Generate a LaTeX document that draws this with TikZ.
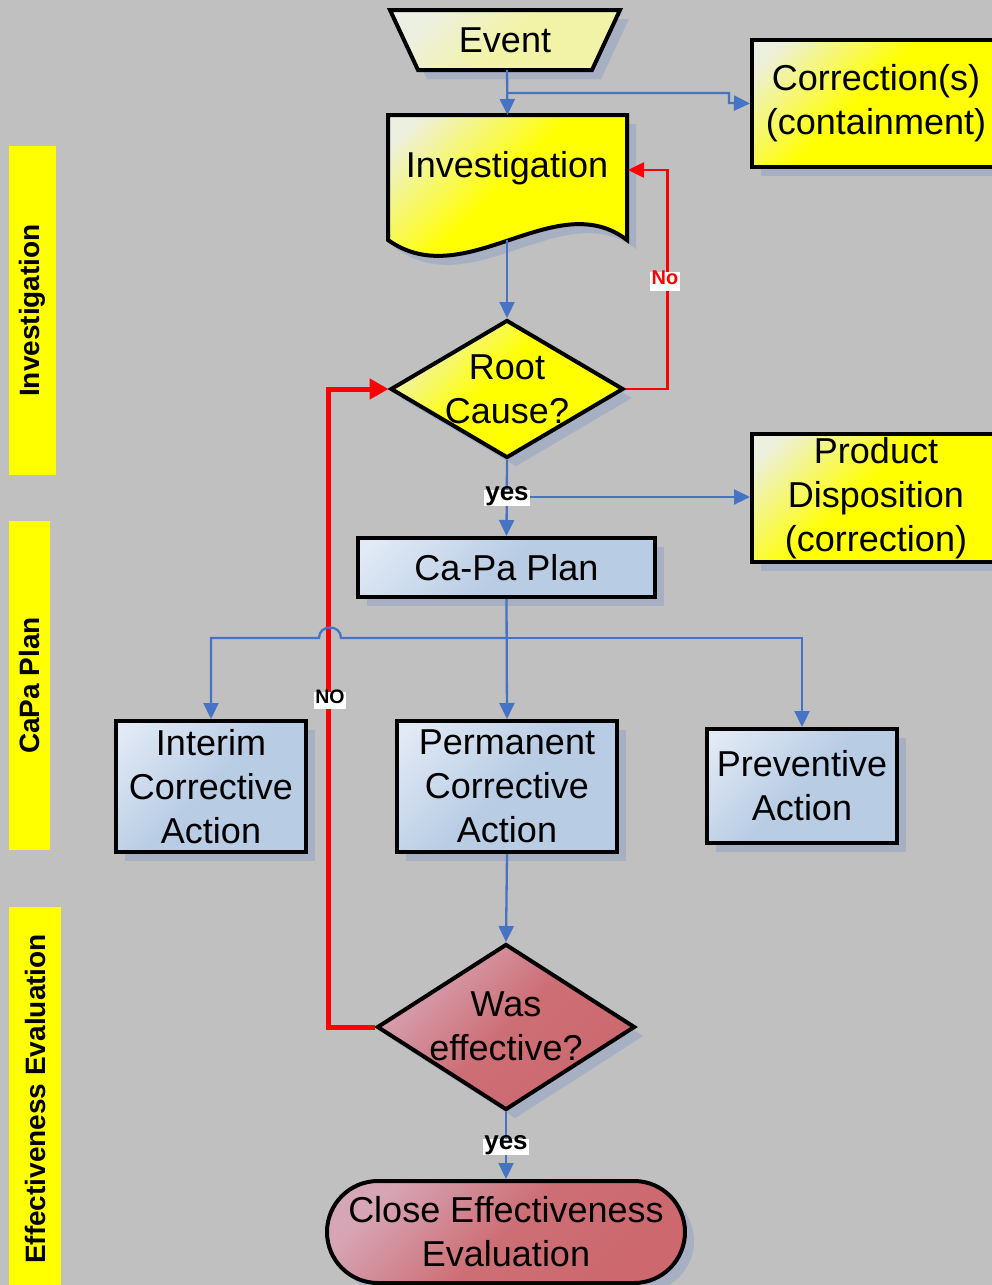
\documentclass[tikz,border=0pt]{standalone}
\usepackage{fontspec}
\setmainfont{Liberation Sans}
\usetikzlibrary{arrows.meta,shapes.geometric,shapes.misc,shadows}

\definecolor{bg}{RGB}{192,192,192}
\definecolor{lanecol}{RGB}{255,255,0}
\definecolor{shadowcol}{RGB}{166,176,194}
\definecolor{flowcol}{RGB}{70,115,196}
\definecolor{loopcol}{RGB}{255,0,0}
\definecolor{ylight}{RGB}{236,240,222}
\definecolor{elight}{RGB}{236,240,226}
\definecolor{epale}{RGB}{243,243,168}
\definecolor{blight}{RGB}{226,234,245}
\definecolor{bdark}{RGB}{184,204,228}
\definecolor{rlight}{RGB}{214,166,182}
\definecolor{rdark}{RGB}{204,104,110}

% glossy fills: light sheen in the upper left corner only
\pgfdeclareverticalshading{yellowsheen}{100bp}{color(0bp)=(lanecol); color(54bp)=(lanecol); color(80bp)=(ylight); color(100bp)=(ylight)}
\pgfdeclareverticalshading{bluesheen}{100bp}{color(0bp)=(bdark); color(50bp)=(bdark); color(82bp)=(blight); color(100bp)=(blight)}

\newcommand\mainsize{\fontsize{36pt}{44pt}\selectfont}
\newcommand\lanesize{\bfseries\fontsize{28pt}{28pt}\selectfont}

\begin{document}
\begin{tikzpicture}[x=1pt,y=-1pt,
  shapebase/.style={draw=black, line width=4pt,
    drop shadow={shadow xshift=9pt, shadow yshift=-9pt, fill=shadowcol, opacity=1}},
  box/.style={shapebase, rectangle, align=center, font=\mainsize, inner sep=2pt},
  yfill/.style={shade, shading=yellowsheen, shading angle=45},
  efill/.style={top color=elight, bottom color=epale, middle color=epale, shading angle=45},
  bfill/.style={shade, shading=bluesheen, shading angle=45},
  rfill/.style={top color=rlight, bottom color=rdark, middle color=rdark!90!rlight, shading angle=45},
  txt/.style={font=\mainsize, align=center, inner sep=0pt},
  lane/.style={fill=lanecol, rotate=90, font=\lanesize, inner sep=0pt},
  flow/.style={draw=flowcol, line width=2.3pt, -{Triangle[length=16pt,width=15pt]}},
  loopthin/.style={draw=loopcol, line width=2.6pt, -{Triangle[length=16pt,width=15pt]}},
  loopthick/.style={draw=loopcol, line width=5pt, -{Triangle[length=19pt,width=20pt]}},
  nolbl/.style={fill=white, text=loopcol, font=\bfseries\fontsize{20pt}{20pt}\selectfont,
    inner xsep=1.5pt, inner ysep=5.5pt, text height=.75em, text depth=.05em},
  yeslbl/.style={fill=white, text=black, font=\bfseries\fontsize{26pt}{26pt}\selectfont,
    inner xsep=1pt, inner ysep=3.5pt, text height=.74em, text depth=.24em},
  NOlbl/.style={fill=white, text=black, font=\bfseries\fontsize{19.5pt}{19.5pt}\selectfont,
    inner xsep=1.5pt, inner ysep=4.3pt, text height=.76em, text depth=.08em}
]
\useasboundingbox (0,0) rectangle (992,1285);
\fill[bg] (0,0) rectangle (992,1285);

% swim-lane tags on the left
\node[lane, minimum width=329pt, minimum height=47pt] (laneInv) at (32.5,310.5) {Investigation};
\node[lane, minimum width=329pt, minimum height=41pt] (laneCapa) at (29.5,685.5) {CaPa Plan};
\node[lane, minimum width=384pt, minimum height=52pt] (laneEff) at (35,1099) {Effectiveness Evaluation};

% Event (manual input trapezoid)
\draw[shapebase, efill] (390,10) -- (620,10) -- (592,70) -- (418,70) -- cycle;
\node[txt] (event) at (505,40) {Event};
\coordinate (eventB) at (507,70);

% Investigation (document shape)
\draw[shapebase, yfill] (388,115) -- (627,115) -- (627,240)
  .. controls (555,185) and (465,295) .. (388,240) -- cycle;
\node[minimum width=239pt, minimum height=125pt, inner sep=0pt, outer sep=0pt] (inv) at (507.5,177.5) {};
\node[txt] (invtext) at (507,168) {Investigation};
\coordinate (invB) at (507,240);
\coordinate (invE) at (628,170);

% Corrections
\node[box, yfill, minimum width=248pt, minimum height=127pt] (corr) at (876,103.5)
  {Correction(s)\\(containment)};

% Root cause decision
\node[shapebase, yfill, diamond, minimum width=233pt, minimum height=138pt, inner sep=0pt] (root) at (507,389) {};
\node[txt] (roottext) at (507,389) {Root\\Cause?};

% Product disposition
\node[box, yfill, minimum width=248pt, minimum height=128pt] (prod) at (876,498)
  {Product\\Disposition\\(correction)};

% Plan and actions
\node[box, bfill, minimum width=297pt, minimum height=59pt] (capa) at (506.5,567.5) {Ca-Pa Plan};
\node[box, bfill, minimum width=190pt, minimum height=131pt] (interim) at (211,786.5)
  {Interim\\Corrective\\Action};
\node[box, bfill, minimum width=220pt, minimum height=131pt] (perm) at (507,786.5)
  {Permanent\\Corrective\\Action};
\node[box, bfill, minimum width=190pt, minimum height=114pt] (prev) at (802,786)
  {Preventive\\Action};

% Effectiveness decision and closure
\node[shapebase, rfill, diamond, minimum width=258pt, minimum height=166pt, inner sep=0pt] (was) at (506,1027) {};
\node[txt] (wastext) at (506,1026) {Was\\effective?};
\node[shapebase, rfill, rounded rectangle, minimum width=358pt, minimum height=102pt, inner sep=0pt] (close) at (506,1232) {};
\node[txt] (closetext) at (506,1232) {Close Effectiveness\\Evaluation};

% red loops
\draw[loopthin] (root.east) -- ++(42,0) |- (invE);
\node[nolbl] (lblNo) at (665,281) {No};
\draw[loopthick] (was.west) -- ++(-47,0) |- (root.west);
\node[NOlbl] (lblNO) at (330,700) {NO};

% blue flow
\coordinate (evsplit) at (507,93);
\coordinate (corrjog) at (729,93);
\draw[flow] (eventB) -- (inv.north);
\draw[flow] (evsplit) -- (corrjog) -- ++(0,10) -- (corr.west);
\draw[flow] (invB) -- (root.north);
\coordinate (yesY) at (507,497);
\draw[flow] (root.south) -- (capa.north);
\draw[flow] (yesY) -- (yesY -| prod.west);
\node[yeslbl] (yes1) at (507,498) {yes};

\coordinate (branch) at (507,638);
\draw[flow] (capa.south) -- (perm.north);
\draw[flow] (branch) -| (prev.north);
\draw[flow] (branch) -- (341,638) .. controls (341,624) and (319,624) .. (319,638) -| (interim.north);

\draw[flow] (perm.south) -- (was.north);
\draw[flow] (was.south) -- (close.north);
\node[yeslbl] (yes2) at (506,1147) {yes};
\end{tikzpicture}
\end{document}
